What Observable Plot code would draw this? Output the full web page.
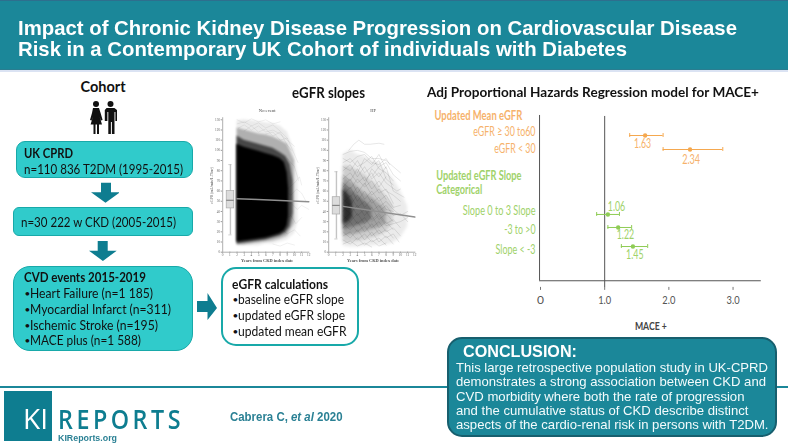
<!DOCTYPE html>
<html>
<head>
<meta charset="utf-8">
<script src="https://cdn.jsdelivr.net/npm/d3@7"></script>
<script src="https://cdn.jsdelivr.net/npm/@observablehq/plot@0.6"></script>
<style>
html,body{margin:0;padding:0;background:#fff;}
#page{position:relative;width:788px;height:443px;overflow:hidden;background:#fff;font-family:Lato,sans-serif;color:#111;}
#page div{position:absolute;box-sizing:border-box;}
.t{white-space:nowrap;transform-origin:left center;line-height:1;}
.chart{position:absolute;}
.chart svg{display:block;background:transparent;overflow:visible;}
</style>
</head>
<body>
<div id="page"></div>
<script>
// ---------- Text content ----------
const titleLines = ["Impact of Chronic Kidney Disease Progression on Cardiovascular Disease","Risk in a Contemporary UK Cohort of individuals with Diabetes"];
const cohortBox1 = ["UK CPRD","n=110 836 T2DM (1995-2015)"];
const cohortBox2 = "n=30 222 w CKD (2005-2015)";
const eventsHead = "CVD events 2015-2019";
const eventsItems = ["Heart Failure (n=1 185)","Myocardial Infarct (n=311)","Ischemic Stroke (n=195)","MACE plus (n=1 588)"];
const calcHead = "eGFR calculations";
const calcItems = ["baseline eGFR slope","updated eGFR slope","updated mean eGFR"];
const conclusionLines = ["This large retrospective population study in UK-CPRD","demonstrates a strong association between CKD and","CVD morbidity where both the rate of progression","and the cumulative status of CKD describe distinct","aspects of the cardio-renal risk in persons with T2DM."];

// ---------- Forest plot data ----------
const forestCategories = ["eGFR ≥ 30 to60","eGFR < 30","Slope 0 to 3 Slope","-3 to >0","Slope < -3"];
const forestLabels = ["1.63","2.34","1.06","1.22","1.45"];
const forestEstimate = [1.63,2.33,1.05,1.21,1.44];
const forestLow = [1.39,1.91,0.875,1.05,1.26];
const forestHigh = [1.91,2.84,1.23,1.42,1.67];
const forestRow = [1,2,6.64,7.57,8.93];
const forestGroup = ["mean","mean","slope","slope","slope"];

// ---------- eGFR slope panels: envelopes ----------
const noEventOuter = {years:[2,3,4,5,6,7,8,9,10,10.5],hi:[129,130,129,128,127,126,124,118,100,75],lo:[6,6,6,6,8,8,10,12,18,30]};
const noEventMid = {years:[2,3,4,5,6,7,8,9,10],hi:[122,120,118,116,115,113,110,106,90],lo:[7,7,8,9,10,11,13,16,28]};
const noEventDark = {years:[2,3,4,5,6,7,8,8.8,9.4,9.8],hi:[114,110,108,106,104,102,98,94,86,70],lo:[8,9,10,11,12,14,16,19,25,38]};
const noEventCore = {years:[2,3,4,5,6,7,8,8.6,9,9.2],hi:[106,103,101,99,97,95,92,88,78,62],lo:[10,11,12,13,14,16,18,21,26,36]};
const hfOuter = {years:[2,3,4,5,6,7,8,9,10,11],hi:[96,100,96,94,90,88,80,72,60,45],lo:[6,5,5,6,6,7,7,9,14,25]};
const hfMid = {years:[2,3,4,5,6,7,8,9],hi:[85,84,80,76,70,64,55,45],lo:[10,10,11,12,14,16,20,28]};
const hfInner = {years:[2,3,4,5,6,7,8],hi:[75,70,64,58,54,48,42],lo:[16,17,18,20,22,24,28]};
const hfDense = {years:[2,3,4,5,6],hi:[68,62,56,50,44],lo:[22,24,26,28,32]};
const hfCore = {years:[2,2.3,2.8,3.3],hi:[62,60,56,50],lo:[28,28,30,34]};

const noEventTraces = [
 [[2,130],[3,127],[4,131],[5,128],[6,130],[7,126],[8,128]],
 [[2,126],[3,128],[4,124],[5,127],[6,122],[7,125],[8,119],[9,112]],
 [[2.2,122],[3,125],[4,120],[5,124],[6,118],[7,120],[8,116],[9,110],[10,104]],
 [[3,119],[4,124],[5,118],[6,121],[7,114],[8,118],[9,105],[9.6,100]],
 [[6,116],[7,118],[8,110],[9,112],[10,96],[10.5,88]],
 [[8,70],[9,62],[10,68],[10.7,74],[11,66]],
 [[8.5,60],[9.5,56],[10.3,62],[11,58],[11.6,50]],
 [[8.5,44],[9.5,48],[10.4,42],[11,46],[12,42]],
 [[8.5,32],[9.5,36],[10.2,28],[11,34]],
 [[8,24],[9,18],[10,22],[10.8,16]],
 [[7,8],[8,6],[9,9],[10,7]],
 [[9,92],[10,84],[10.6,70]]
];
const hfTraces = [
 [[2.8,100],[3.5,106],[4.2,110],[5,106],[5.8,106],[7,107],[7.7,106]],
 [[2,96],[3,99],[4,100],[5,98],[6,92],[7,92],[8,90],[9,84],[10,78]],
 [[2,92],[3,88],[4,94],[5,96],[6,88],[7,86],[8,92],[8.5,86]],
 [[2,88],[3,92],[4,84],[5,88],[6,94],[7,82],[8,78],[9,70]],
 [[2,84],[3,80],[4,90],[5,78],[6,84],[7,90],[8,72],[9,66]],
 [[2,80],[3,86],[4,74],[5,84],[6,72],[7,78],[8,68],[9.5,60],[10,62]],
 [[2,76],[3,70],[4,82],[5,70],[6,78],[7,64],[8,74]],
 [[2,72],[3,78],[4,68],[5,74],[6,62],[7,70],[8,60],[9,56],[10,50]],
 [[2,68],[3,62],[4,72],[5,64],[6,70],[7,58],[8,62],[9,48]],
 [[2,64],[3,72],[4,58],[5,68],[6,56],[7,62],[8,52]],
 [[2,60],[3,54],[4,64],[5,52],[6,60],[7,50],[8,56],[9,44],[10,46]],
 [[2,56],[3,64],[4,50],[5,60],[6,48],[7,54],[8,42],[9,40]],
 [[2,52],[3,46],[4,56],[5,44],[6,52],[7,40],[8,46],[9,36],[10,38],[11,30]],
 [[2,48],[3,56],[4,44],[5,50],[6,40],[7,46],[8,36]],
 [[2,44],[3,38],[4,46],[5,36],[6,44],[7,32],[8,38],[9,30]],
 [[2,40],[3,48],[4,36],[5,42],[6,32],[7,38],[8,28],[9,32],[10,24]],
 [[2,36],[3,30],[4,38],[5,28],[6,36],[7,24],[8,30],[9,22]],
 [[2,32],[3,38],[4,28],[5,34],[6,24],[7,30],[8,20],[9,24],[10,16]],
 [[2,28],[3,22],[4,30],[5,20],[6,28],[7,18],[8,22],[9,14]],
 [[2,24],[3,30],[4,20],[5,26],[6,16],[7,22],[8,14],[9,18],[9.8,10]],
 [[2,20],[3,14],[4,22],[5,12],[6,20],[7,10],[8,16],[9,8]],
 [[2,16],[3,20],[4,12],[5,18],[6,10],[7,14],[8,7]],
 [[2,12],[3,8],[4,14],[5,7],[6,12],[7,6],[8,9]],
 [[2,8],[3,11],[4,6],[5,9],[6,5]],
 [[6,74],[7,84],[8,88],[9,76],[10,70]],
 [[5,66],[6,82],[7,74],[8,84],[9,60],[10.5,54]],
 [[4,78],[5,92],[6,86],[7,96],[8,82]],
 [[7,44],[8,50],[9,42],[10,36],[11,40]],
 [[6,30],[7,36],[8,26],[9,28],[10,30],[11,34]]
];

const noEventBox = {whiskerLow:17,q1:43,median:51,q3:60,whiskerHigh:86};
const hfBox = {whiskerLow:13,q1:37,median:46,q3:54,whiskerHigh:79};
const noEventTrend = {years:[2,12],values:[52.5,49.5]};
const hfTrend = {years:[2,12],values:[45,34.5]};
const axisYears = [0,1,2,3,4,5,6,7,8,9,10,11,12];
const axisEgfr = [0,10,20,30,40,50,60,70,80,90,100,110,120,130];

// ---------- Page helpers ----------
const page = document.getElementById("page");
function box(x,y,w,h,css){const d=document.createElement("div");d.style.cssText=`left:${x}px;top:${y}px;width:${w}px;height:${h}px;${css||""}`;page.appendChild(d);return d;}
function text(x,yc,s,css,fitW){
  const d=document.createElement("div");d.className="t";
  d.style.cssText=`left:${x}px;top:${yc}px;${css||""}`;
  d.innerHTML=s;page.appendChild(d);
  const h=d.getBoundingClientRect().height;
  d.style.top=(yc-h/2)+"px";
  if(fitW){const w=d.getBoundingClientRect().width;d.style.transform=`scaleX(${fitW/w})`;}
  return d;
}
function shape(x,y,w,h,inner){
  const d=document.createElement("div");d.style.cssText=`left:${x}px;top:${y}px;width:${w}px;height:${h}px;`;
  d.innerHTML=`<svg width="${w}" height="${h}" viewBox="0 0 ${w} ${h}" style="display:block">${inner}</svg>`;page.appendChild(d);
}
const teal="#1b8799", arrowTeal="#0e7d90", aqua="#30cbcb", aquaEdge="#18a9a9";

// Header
box(0,0,788,70,`background:${teal};border-top:1px solid #2e6f8e;border-bottom:1px solid #2a7d90;`);
box(0,70,788,2,"background:#dbe3f3;");
titleLines.forEach((s,i)=>text(18,[27.7,49.2][i],s,"font:bold 21px 'Liberation Sans';color:#fff;",[719,609][i]));

// Cohort column
text(0,86,"Cohort","font:bold 14.5px Lato;width:206px;text-align:center;");
shape(88,100,32,34,`<g fill="#111">
<circle cx="8" cy="4" r="3"/><path d="M5 8h6l1.6 5 2 7-1.6.6-1.4-4.2 2.4 8H11v9.6H9V24.5H7.5V34h-2V24.4H2.6l2.4-8-1.4 4.2L2 20l2-7z"/>
<circle cx="22.5" cy="4" r="3"/><path d="M18.6 8h7.8l2.6 2v11h-1.6v-9h-.9v22h-2.6V22h-1v12h-2.6V12h-.9v9H16.8V10z"/></g>`);

box(16,141,177,37,`background:${aqua};border:1.2px solid ${aquaEdge};border-radius:9px;`);
text(24,153,cohortBox1[0],"font:bold 13.5px Lato;",49);
text(24,169,cohortBox1[1],"font:13.5px Lato;",159);
shape(91,182,28,21,`<path fill="${arrowTeal}" d="M10 0.7h10v9.6h9L14.5 20.7 0 10.3h10z"/>`);
box(13,206.7,180,29.3,`background:${aqua};border:1.2px solid ${aquaEdge};border-radius:6px;`);
text(21,222,cohortBox2,"font:13.5px Lato;",155);
shape(89,241,28,20,`<path fill="${arrowTeal}" d="M8.7 0h10v9.7h9L13.9 20 0 9.7h8.7z"/>`);
box(13,265.7,180,85.3,`background:${aqua};border:1.2px solid ${aquaEdge};border-radius:17px;`);
text(24,277.3,eventsHead,"font:bold 13.5px Lato;",122);
const evY=[293,309,324.7,340.3], evW=[123,141,128,111];
eventsItems.forEach((s,i)=>{text(24.5,evY[i],"•","font:10px Lato;");text(30,evY[i],s,"font:13.5px Lato;",evW[i]);});
shape(196,292,22,29,`<path fill="${arrowTeal}" d="M1 9h10.5V1L21 16 11.5 28v-8H1z"/>`);

// Calculations box
box(221,267.3,138,78.7,`background:#fff;border:2px solid ${aquaEdge};border-radius:15px;`);
text(231.7,284,calcHead,"font:bold 13.5px Lato;",96);
const calY=[299.3,315,331], calW=[106,107,108.5];
calcItems.forEach((s,i)=>{text(232.5,calY[i],"•","font:10px Lato;");text(238.3,calY[i],s,"font:13.5px Lato;",calW[i]);});

// Section titles
text(291.5,92,"eGFR slopes","font:bold 14.5px Lato;",73);
text(426.5,91.5,"Adj Proportional Hazards Regression model for MACE+","font:bold 13.5px Lato;",332);

// Footer
box(0,386.3,788,2,`background:${teal};`);
box(3.7,390.7,48.6,50,`background:${arrowTeal};`);
text(23,419.3,"KI","font:400 26.5px 'Open Sans';color:#fff;",25);
text(57.5,419.3,"REPORTS",`font:600 26.5px 'Open Sans';letter-spacing:4px;color:${arrowTeal};`,126);
text(57.7,437.8,"KIReports.org",`font:bold 9px 'Liberation Sans';color:#2a8094;`,59);
text(229.7,417,"Cabrera C, <i>et al</i> 2020",`font:bold 12px 'Liberation Sans';color:#2a8094;`,112.5);

// Conclusion
box(447.3,336.7,329.4,100.6,`background:${teal};border:2px solid #175f6e;border-radius:15px;`);
text(462.7,351.7,"CONCLUSION:","font:bold 16.5px 'Liberation Sans';color:#fff;",114);
const conY=[368.3,382.4,396.7,411,425.1], conW=[312,310,288.5,292.5,312.5];
conclusionLines.forEach((s,i)=>text(456,conY[i],s,"font:12.4px 'Liberation Sans';color:#f3fbfc;",conW[i]));

// ---------- Observable Plot charts ----------
function mount(el,x,y,css){const d=document.createElement("div");d.className="chart";d.style.cssText=`left:${x}px;top:${y}px;${css||""}`;d.appendChild(el);page.appendChild(d);}
const rows = o => o.years.map((year,i)=>({year,lo:o.lo[i],hi:o.hi[i]}));
const flat = tr => tr.flatMap((t,id)=>t.map(([year,value])=>({id,year,value})));

function panel(title,bands,traces,traceOpacity,bx,trend,soften){
  const band=(o,op)=>Plot.areaY(rows(o),{x:"year",y1:"lo",y2:"hi",fill:"#000",fillOpacity:op});
  const svg = Plot.plot({
    width:107,height:165,marginLeft:17.2,marginRight:3.7,marginTop:19.3,marginBottom:13.3,
    style:{background:"transparent",fontFamily:"'Liberation Serif'",fontSize:"4px",overflow:"visible"},
    x:{domain:[0,12]},y:{domain:[0,130]},
    marks:[
      ...bands.map(([o,op])=>band(o,op)),
      Plot.line(flat(traces),{x:"year",y:"value",z:"id",stroke:"#000",strokeOpacity:traceOpacity,strokeWidth:0.45}),
      Plot.ruleX([0],{y1:0,y2:132,stroke:"#999",strokeWidth:0.8}),
      Plot.ruleY([0],{x1:0,x2:12,stroke:"#999",strokeWidth:0.8}),
      Plot.axisY({ticks:axisEgfr,tickSize:1.5,tickPadding:1,label:null,stroke:"#999",fill:"#666",fontSize:3.4}),
      Plot.axisX({ticks:axisYears,tickSize:1,tickPadding:0.2,label:null,stroke:"#999",fill:"#666",fontSize:3.4,tickFormat:d=>d}),
      Plot.ruleX([1.08],{y1:bx.whiskerLow,y2:bx.whiskerHigh,stroke:"#c4c4c4",strokeWidth:1.4}),
      Plot.ruleY([bx.whiskerLow,bx.whiskerHigh],{x1:0.85,x2:1.3,stroke:"#bbb",strokeWidth:0.7}),
      Plot.rect([bx],{x1:0.56,x2:1.6,y1:"q1",y2:"q3",fill:"#dcdcdc",stroke:"#aaa",strokeWidth:0.7}),
      Plot.ruleY([bx.median],{x1:0.56,x2:1.6,stroke:"#777",strokeWidth:1}),
      Plot.line(trend.years.map((year,i)=>({year,v:trend.values[i]})),{x:"year",y:"v",stroke:"#8f8f8f",strokeWidth:1.5}),
      Plot.text([title],{x:6.2,y:139,fontSize:4.6,fill:"#444"}),
      Plot.text(["Years from CKD index date"],{x:6.2,y:-8.2,fontSize:4.4,fontWeight:"bold",fill:"#555"}),
      Plot.text(["eGFR (mL/min/1.73m²)"],{x:0,y:65.5,dx:-11,rotate:-90,fontSize:3.8,fill:"#555"})
    ]
  });
  svg.querySelectorAll('[aria-label="area"]').forEach(g=>{g.style.filter=`blur(${soften}px)`;});
  return svg;
}
mount(panel("No event",[[noEventOuter,.08],[noEventMid,.25],[noEventDark,.6],[noEventCore,1]],noEventTraces,.14,noEventBox,noEventTrend,1.1),205,100,"filter:blur(.35px)");
mount(panel("HF",[[hfOuter,.08],[hfMid,.13],[hfInner,.22],[hfDense,.3],[hfCore,.6]],hfTraces,.22,hfBox,hfTrend,1.6),311,100,"filter:blur(.35px)");

const orange="#f5a84f", orangeText="#f6b26b", green="#8fcc55", greenText="#a0d26a";
const colorOf = g => g==="mean"?orange:green;
const forest = forestCategories.map((category,i)=>({category,label:forestLabels[i],est:forestEstimate[i],lo:forestLow[i],hi:forestHigh[i],row:forestRow[i],group:forestGroup[i]}));
const categoryDy=[-3.3,-0.7,-4,2.3,3], valueDx=[-2.6,1.1,8.6,7.3,1.9], valueDy=[8.7,10,-7.3,7.3,8.7];
const headers=[{s:"Updated Mean eGFR",row:-0.43,g:"mean"},{s:"Updated eGFR Slope",row:3.9,g:"slope"},{s:"Categorical",row:4.86,g:"slope"}];
const forestChart = Plot.plot({
  width:363,height:235,marginLeft:115,marginRight:27.2,marginTop:21,marginBottom:48.1,
  style:{background:"transparent",fontFamily:"Lato",fontSize:"12px",overflow:"visible"},
  x:{domain:[0,3.44]},y:{domain:[0,11.85],reverse:true,axis:null},
  marks:[
    Plot.ruleY([11.375],{x1:-0.015,x2:3.44,stroke:"#555",strokeWidth:1}),
    Plot.ruleX([-0.015],{y1:-0.43,y2:11.375,stroke:"#555",strokeWidth:1}),
    Plot.ruleX([1],{y1:-0.36,y2:11.86,stroke:"#555",strokeWidth:1}),
    Plot.axisX({ticks:[0,1,2,3],tickFormat:d=>d===0?"0":d.toFixed(1),tickSize:3,tickPadding:5,stroke:"#777",fill:"#555",fontSize:12,label:"MACE +",labelAnchor:"center",labelArrow:"none",labelOffset:43}),
    Plot.ruleY(forest,{y:"row",x1:"lo",x2:"hi",stroke:d=>colorOf(d.group),strokeWidth:1}),
    Plot.ruleX(forest,{x:"lo",y1:d=>d.row-.14,y2:d=>d.row+.14,stroke:d=>colorOf(d.group)}),
    Plot.ruleX(forest,{x:"hi",y1:d=>d.row-.14,y2:d=>d.row+.14,stroke:d=>colorOf(d.group)}),
    Plot.dot(forest,{x:"est",y:"row",r:2.2,fill:d=>colorOf(d.group)}),
    ...forest.map((d,i)=>Plot.text([d],{x:0,y:"row",text:"category",dx:-5,dy:categoryDy[i],textAnchor:"end",fontSize:13,fill:d.group==="mean"?orangeText:greenText})),
    ...forest.map((d,i)=>Plot.text([d],{x:"est",y:"row",text:"label",dx:valueDx[i],dy:valueDy[i],fontSize:13,fill:d.group==="mean"?orangeText:greenText})),
    ...headers.map(h=>Plot.text([h],{x:0,y:"row",text:"s",dx:h.g==="mean"?-106:-104.3,textAnchor:"start",fontSize:13,fontWeight:"bold",fill:h.g==="mean"?orangeText:greenText}))
  ]
});
// Narrow the labels to the widths of the reference's condensed face
const labelWidths = {"eGFR ≥ 30 to60":62.3,"eGFR < 30":41.3,"Slope 0 to 3 Slope":72.7,"-3 to >0":31.3,"Slope < -3":40,
  "Updated Mean eGFR":87.7,"Updated eGFR Slope":85.3,"Categorical":46,"MACE +":32,"1.0":13,"2.0":13,"3.0":13,
  "1.63":17.3,"2.34":18,"1.06":17.5,"1.22":17.5,"1.45":17.5};
forestChart.querySelectorAll("text").forEach(t=>{
  const w=labelWidths[t.textContent.trim()];
  if(w){t.setAttribute("textLength",w);t.setAttribute("lengthAdjust","spacingAndGlyphs");}
  if(t.textContent.trim()==="MACE +"){t.setAttribute("font-weight","bold");t.setAttribute("fill","#444");}
});
mount(forestChart,425,100);
</script>
</body>
</html>
